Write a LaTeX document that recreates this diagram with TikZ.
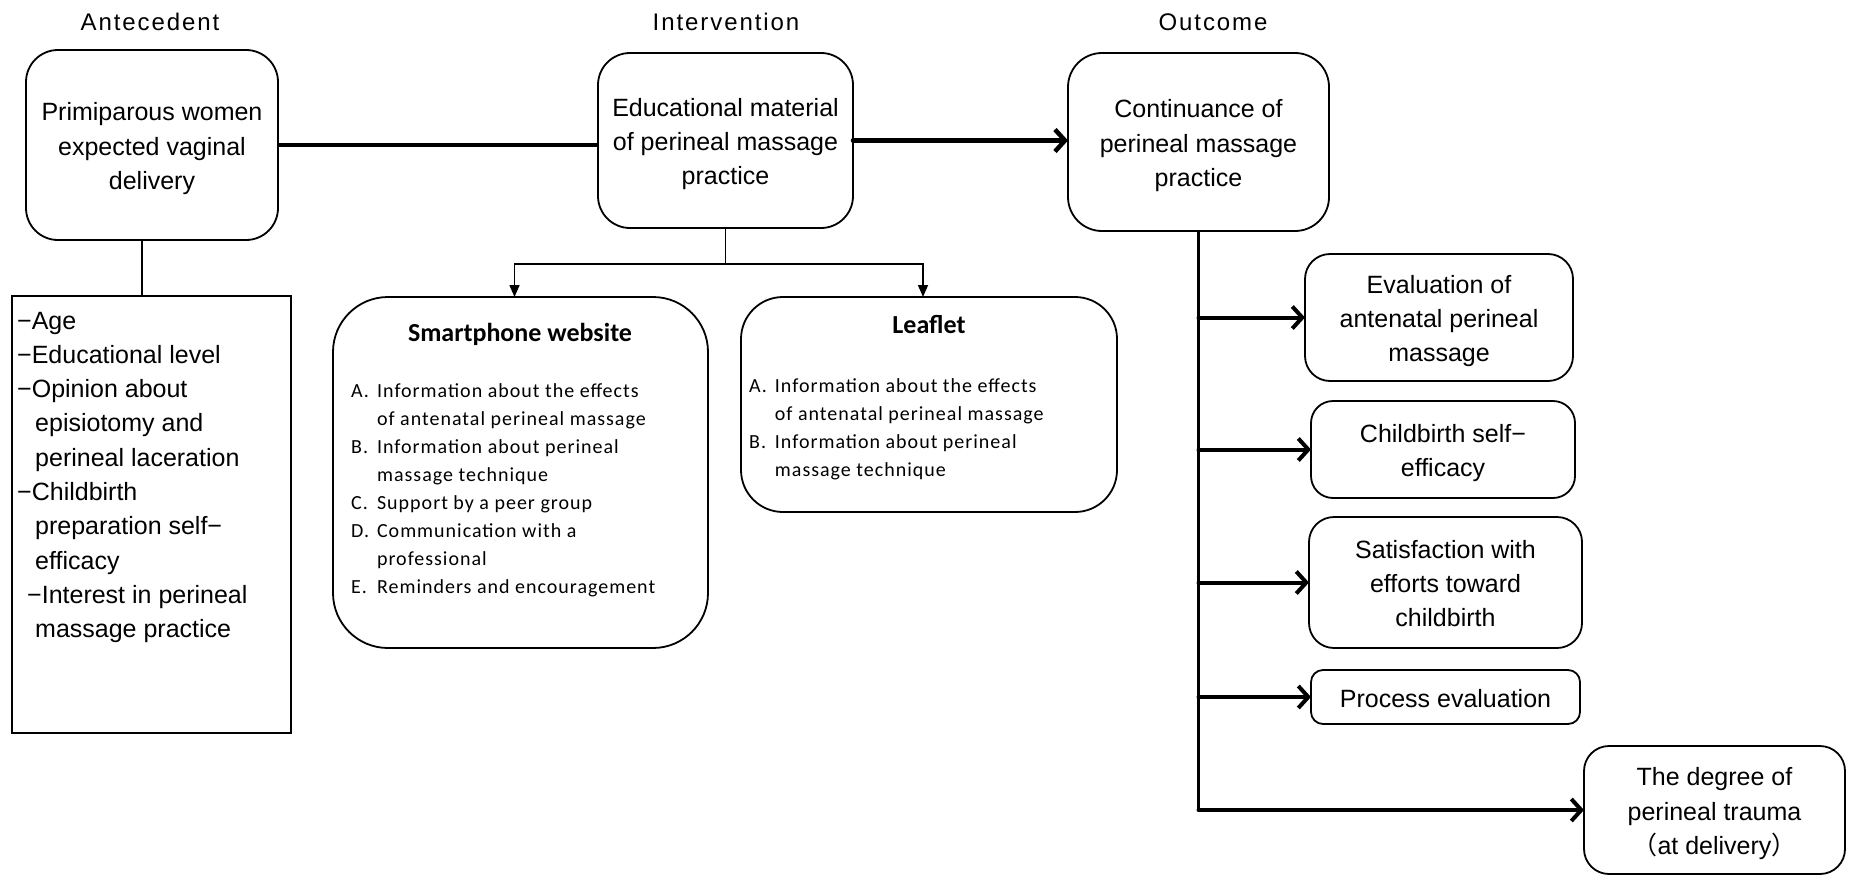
\documentclass[tikz,border=0pt]{standalone}
\usepackage{fontspec}
\setmainfont{Liberation Sans}
\newfontfamily\calib[LetterSpace=5]{Carlito}
\newfontfamily\calibb{Carlito}
\newfontfamily\titlef[LetterSpace=8]{Liberation Sans}
\newfontfamily\cjk{Noto Sans CJK JP}
\usetikzlibrary{arrows.meta,calc}
\newcommand\mytop{\rule{0pt}{26pt}}
\newcommand\mybot{\rule[-6pt]{0pt}{6pt}}
\begin{document}
\begin{tikzpicture}[x=1pt,y=-1pt,
  box/.style={draw, line width=1.8pt, rounded corners=#1, inner sep=0pt, outer sep=0pt,
    anchor=north west, align=center, font=\fontsize{25pt}{34.4pt}\selectfont},
  box/.default=25pt,
  ttl/.style={anchor=base, inner sep=0pt, font=\titlef\fontsize{24pt}{28pt}\selectfont},
  thickarr/.style={line width=4.5pt, line cap=round, line join=round, -{Straight Barb[length=10pt,width=22pt]}},
  brarr/.style={line width=4pt, line cap=round, line join=round, -{Straight Barb[length=10pt,width=22pt]}},
  thinline/.style={line width=1.5pt},
  thinarr/.style={line width=1.5pt, -{Triangle[length=12pt,width=10pt]}}
]
\fill[white] (0,0) rectangle (1854,875);
\useasboundingbox (0,0) rectangle (1854,875);

% titles
\node[ttl] (t1) at (150,31) {Antecedent};
\node[ttl] (t2) at (726,31) {Intervention};
\node[ttl] (t3) at (1213,31) {Outcome};

% main boxes
\node[box=32pt, minimum width=252pt, minimum height=190pt] (A) at (26,50)
  {\mytop Primiparous women\\expected vaginal\\delivery\mybot};
\node[box=32pt, minimum width=255pt, minimum height=175pt] (B) at (598,53)
  {\mytop Educational material\\of perineal massage\\practice\mybot};
\node[box=34pt, minimum width=261pt, minimum height=178pt] (C) at (1068,53)
  {\mytop Continuance of\\perineal massage\\practice\mybot};

% antecedent list
\node[draw, line width=1.8pt, anchor=north west, inner sep=0pt, outer sep=0pt,
  minimum width=279pt, minimum height=437pt] (V) at (12,296) {};
\node[anchor=base west, inner sep=0pt, font=\fontsize{25pt}{34.3pt}\selectfont] (Vt) at (17,329)
  {\begin{tabular}[t]{@{}l@{}}
   −Age\\
   −Educational level\\
   −Opinion about\\
   \hspace*{18pt}episiotomy and\\
   \hspace*{18pt}perineal laceration\\
   −Childbirth\\
   \hspace*{18pt}preparation self−\\
   \hspace*{18pt}efficacy\\
   \hspace*{10pt}−Interest in perineal\\
   \hspace*{18pt}massage practice
  \end{tabular}};

% smartphone website
\node[box=55pt, minimum width=375pt, minimum height=351pt] (S) at (333,297) {};
\node[anchor=base, inner sep=0pt, font=\calibb\bfseries\fontsize{26pt}{30pt}\selectfont] (St) at (520,341) {Smartphone website};
\node[anchor=base west, inner sep=0pt, font=\calib\fontsize{20pt}{28pt}\selectfont] (Sl) at (351,397)
  {\begin{tabular}[t]{@{}l@{\hspace{8pt}}l@{}}
   A. & Information about the effects\\
      & of antenatal perineal massage\\
   B. & Information about perineal\\
      & massage technique\\
   C. & Support by a peer group\\
   D. & Communication with a\\
      & professional\\
   E. & Reminders and encouragement
  \end{tabular}};

% leaflet
\node[box=42pt, minimum width=376pt, minimum height=215pt] (L) at (741,297) {};
\node[anchor=base, inner sep=0pt, font=\calibb\bfseries\fontsize{26pt}{30pt}\selectfont] (Lt) at (929,333) {Leaflet};
\node[anchor=base west, inner sep=0pt, font=\calib\fontsize{20pt}{28pt}\selectfont] (Ll) at (749,392)
  {\begin{tabular}[t]{@{}l@{\hspace{8pt}}l@{}}
   A. & Information about the effects\\
      & of antenatal perineal massage\\
   B. & Information about perineal\\
      & massage technique
  \end{tabular}};

% outcome boxes
\node[box=25pt, minimum width=268pt, minimum height=127pt] (E) at (1305,254)
  {\mytop Evaluation of\\antenatal perineal\\massage\mybot};
\node[box=22pt, minimum width=264pt, minimum height=97pt] (F) at (1311,401)
  {\mytop Childbirth self−\\efficacy\mybot};
\node[box=25pt, minimum width=273pt, minimum height=131pt] (G) at (1309,517)
  {\mytop Satisfaction with\\efforts toward\\childbirth\mybot};
\node[box=12pt, minimum width=269pt, minimum height=54pt] (P) at (1311,670)
  {\mytop Process evaluation\mybot};
\node[box=25pt, minimum width=261pt, minimum height=128pt] (D) at (1584,746)
  {\mytop The degree of\\perineal trauma\\{\cjk （}at delivery{\cjk ）}\mybot};

% connectors
\draw[line width=4.5pt] (A.east) -- (A.east -| B.west);
\draw[thickarr] (B.east) -- (B.east -| C.west);

\coordinate (a1) at ($(A.south west)!0.46!(A.south east)$);
\draw[thinline] (a1) -- (a1 |- V.north);

\draw[thinline] (B.south) -- ++(0,36) coordinate (bj);
\draw[thinarr] (bj) -| ([xshift=-6pt]S.north);
\draw[thinarr] (bj) -| ([xshift=-6pt]L.north);

\draw[line width=3.5pt] (C.south) -- (C.south |- D.west);
\draw[brarr] (C.south |- E.west) -- (E.west);
\draw[brarr] (C.south |- F.west) -- (F.west);
\draw[brarr] (C.south |- G.west) -- (G.west);
\draw[brarr] (C.south |- P.west) -- (P.west);
\draw[brarr] (C.south |- D.west) -- (D.west);
\end{tikzpicture}
\end{document}
